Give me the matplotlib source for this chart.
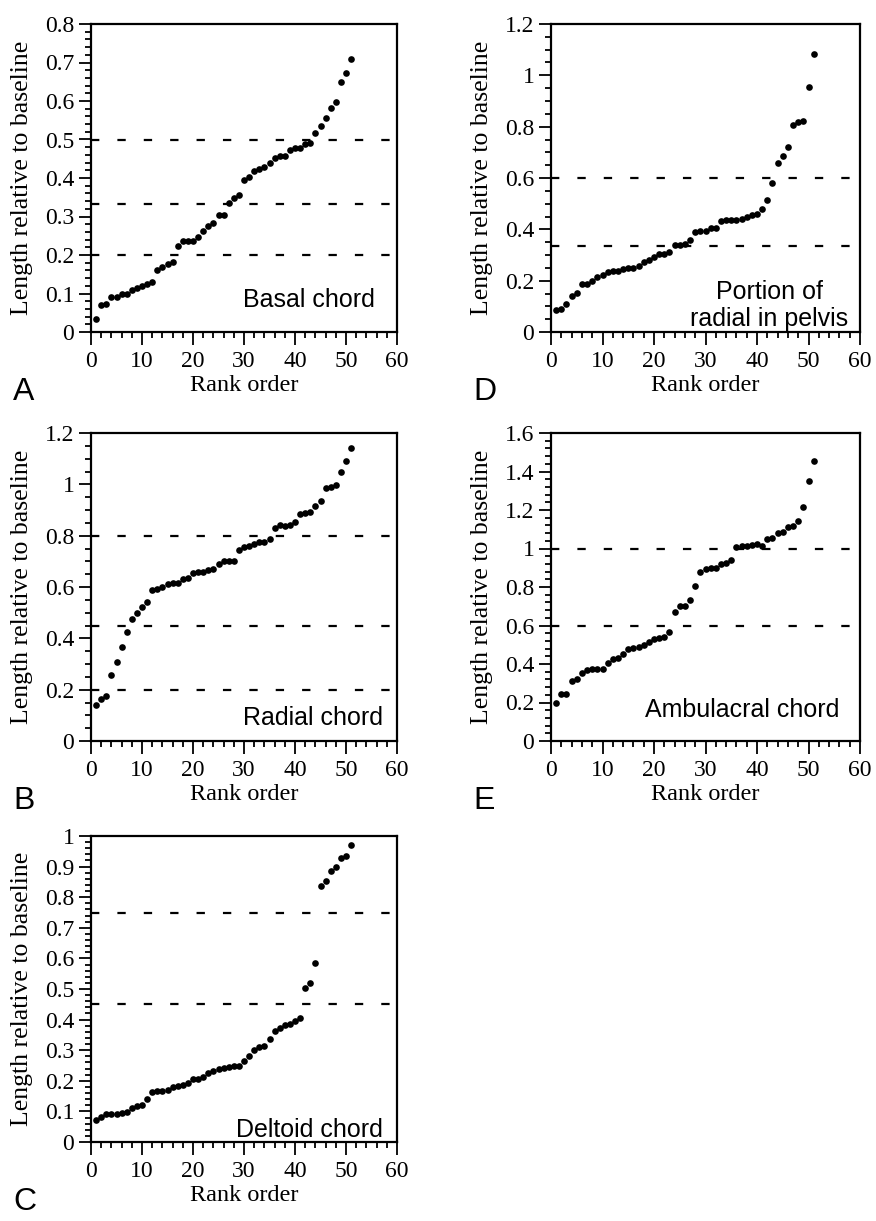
import numpy as np
import matplotlib
matplotlib.use("Agg")
import matplotlib.pyplot as plt
from matplotlib.ticker import MultipleLocator, FuncFormatter

plt.rcParams["font.family"] = ["Liberation Serif", "DejaVu Serif"]
plt.rcParams["lines.scale_dashes"] = False

W, H = 876, 1221

rank = np.arange(1, 52)

basal = [0.034, 0.070, 0.072, 0.090, 0.090, 0.100, 0.100, 0.110, 0.115, 0.120,
         0.125, 0.130, 0.162, 0.170, 0.177, 0.182, 0.224, 0.236, 0.237, 0.237,
         0.248, 0.262, 0.275, 0.282, 0.305, 0.305, 0.334, 0.347, 0.357, 0.394,
         0.403, 0.418, 0.423, 0.429, 0.440, 0.453, 0.457, 0.457, 0.472, 0.479,
         0.479, 0.488, 0.490, 0.516, 0.536, 0.557, 0.583, 0.597, 0.649, 0.672,
         0.708]

radial = [0.141, 0.165, 0.174, 0.257, 0.307, 0.366, 0.424, 0.476, 0.497, 0.523,
          0.541, 0.588, 0.591, 0.601, 0.610, 0.614, 0.614, 0.630, 0.637, 0.654,
          0.659, 0.660, 0.667, 0.669, 0.689, 0.700, 0.702, 0.702, 0.745, 0.755,
          0.761, 0.768, 0.774, 0.777, 0.787, 0.829, 0.840, 0.837, 0.840, 0.855,
          0.886, 0.890, 0.892, 0.916, 0.934, 0.984, 0.990, 0.997, 1.047, 1.089,
          1.141]

deltoid = [0.073, 0.082, 0.091, 0.091, 0.091, 0.095, 0.098, 0.112, 0.117, 0.122,
           0.139, 0.162, 0.168, 0.168, 0.170, 0.181, 0.184, 0.186, 0.194, 0.205,
           0.206, 0.214, 0.225, 0.232, 0.239, 0.243, 0.245, 0.247, 0.249, 0.265,
           0.280, 0.302, 0.310, 0.315, 0.335, 0.362, 0.373, 0.381, 0.384, 0.397,
           0.406, 0.503, 0.518, 0.584, 0.838, 0.854, 0.884, 0.900, 0.928, 0.936,
           0.970]

pelvis = [0.086, 0.090, 0.109, 0.142, 0.151, 0.187, 0.187, 0.198, 0.216, 0.222,
          0.233, 0.237, 0.239, 0.246, 0.248, 0.248, 0.259, 0.272, 0.281, 0.294,
          0.302, 0.304, 0.311, 0.340, 0.340, 0.343, 0.359, 0.389, 0.392, 0.395,
          0.405, 0.406, 0.432, 0.435, 0.435, 0.437, 0.441, 0.448, 0.454, 0.458,
          0.480, 0.513, 0.581, 0.658, 0.684, 0.721, 0.805, 0.818, 0.822, 0.955,
          1.082]

ambulacral = [0.197, 0.242, 0.245, 0.312, 0.324, 0.355, 0.368, 0.376, 0.376, 0.376,
              0.403, 0.424, 0.432, 0.450, 0.478, 0.485, 0.490, 0.499, 0.516, 0.528,
              0.534, 0.539, 0.565, 0.670, 0.703, 0.703, 0.731, 0.804, 0.878, 0.895,
              0.900, 0.900, 0.918, 0.923, 0.939, 1.006, 1.011, 1.014, 1.019, 1.023,
              1.014, 1.049, 1.057, 1.080, 1.084, 1.110, 1.119, 1.145, 1.215, 1.349,
              1.456]

panel_letters = ["A", "B", "C", "D", "E"]
panel_values = [basal, radial, deltoid, pelvis, ambulacral]
panel_names = ["Basal chord", "Radial chord", "Deltoid chord",
               "Portion of\nradial in pelvis", "Ambulacral chord"]
panel_ymax = [0.8, 1.2, 1.0, 1.2, 1.6]
panel_major = [0.1, 0.2, 0.1, 0.2, 0.2]
panel_minor = [0.02, 0.05, 0.02, 0.05, 0.04]
panel_lines = [[0.2, 1 / 3, 0.5], [0.2, 0.45, 0.8], [0.45, 0.75],
               [1 / 3, 0.6], [0.6, 1.0]]

# pixel boxes (left, top, right, bottom)
boxes = [(91, 24, 397, 332), (91, 433, 397, 741), (91, 836, 397, 1142),
         (551, 24, 860, 332), (551, 433, 860, 741)]
# name text placement in axes coords
name_pos = [(0.928, 0.081, "right"), (0.954, 0.052, "right"),
            (0.954, 0.015, "right"), (0.706, 0.019, "center"),
            (0.932, 0.078, "right")]

fig = plt.figure(figsize=(W / 100, H / 100), dpi=100)

fmt = FuncFormatter(lambda v, p: "%g" % round(v, 3))

for i in range(5):
    l, t, r, b = boxes[i]
    ax = fig.add_axes([l / W, 1 - b / H, (r - l) / W, (b - t) / H])

    for yl in panel_lines[i]:
        ax.axhline(yl, color="black", lw=1.6, dashes=(6, 13), zorder=1)

    ax.plot(rank, panel_values[i], "o", color="black", markersize=4.8,
            markeredgewidth=0, zorder=3)

    ax.set_xlim(0, 60)
    ax.set_ylim(0, panel_ymax[i])
    ax.xaxis.set_major_locator(MultipleLocator(10))
    ax.xaxis.set_minor_locator(MultipleLocator(2))
    ax.yaxis.set_major_locator(MultipleLocator(panel_major[i]))
    ax.yaxis.set_minor_locator(MultipleLocator(panel_minor[i]))
    ax.yaxis.set_major_formatter(fmt)

    ax.tick_params(which="both", direction="out", top=False, right=False,
                   labelsize=17, width=1.3)
    ax.tick_params(which="major", length=9, pad=3)
    ax.tick_params(which="minor", length=4)
    ax.tick_params(axis="x", which="major", pad=5)
    for s in ax.spines.values():
        s.set_linewidth(1.6)

    ax.set_xlabel("Rank order", fontsize=17.5, labelpad=2)

    x0, y0, ha = name_pos[i]
    ax.text(x0, y0, panel_names[i], transform=ax.transAxes, ha=ha,
            va="baseline", fontsize=18, family="Liberation Sans",
            multialignment="center", linespacing=1.15)

    # y label
    fig.text((l - 69) / W, 1 - (t + b) / 2 / H,
             "Length relative to baseline", rotation=90,
             ha="center", va="center", fontsize=18.5)

    # panel letter
    fig.text((l - 78) / W, 1 - (b + 68) / H, panel_letters[i],
             ha="left", va="baseline", fontsize=23,
             family="Liberation Sans")

fig.savefig("out.png", dpi=100)
